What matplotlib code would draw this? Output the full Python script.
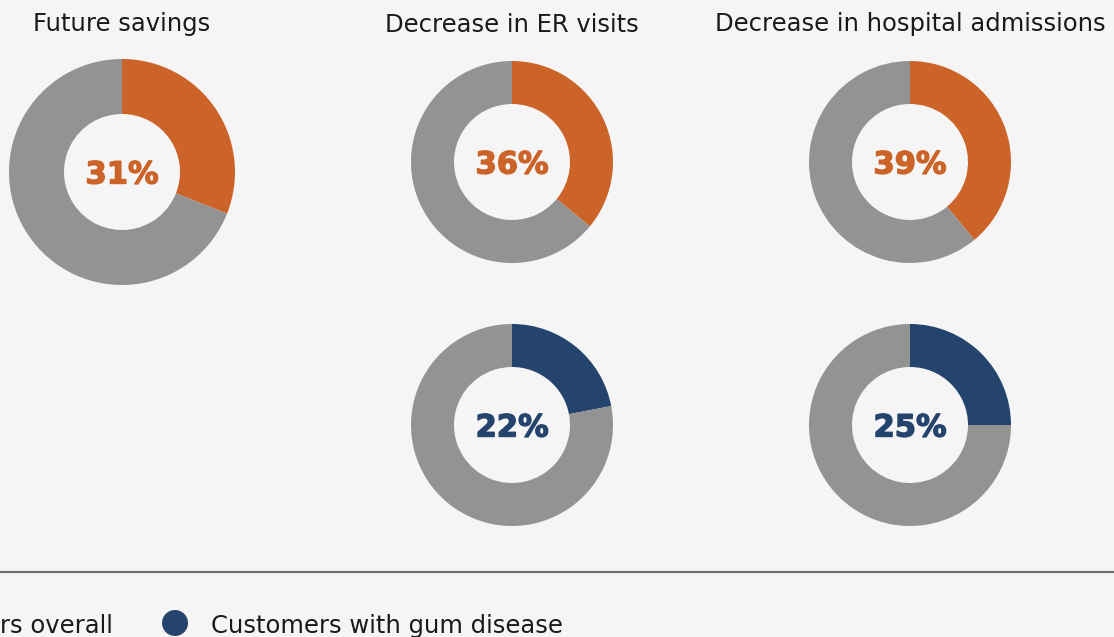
import matplotlib
matplotlib.use("Agg")
import matplotlib.pyplot as plt
from matplotlib.patches import Circle
import matplotlib.patheffects as pe

# ---- data ----
titles = ["Future savings", "Decrease in ER visits", "Decrease in hospital admissions"]
overall_pct = [31, 36, 39]
gum_pct = [None, 22, 25]
legend_labels = ["Customers overall", "Customers with gum disease"]

# ---- style ----
BG = "#f5f5f5"
ORANGE = "#cc6328"
BLUE = "#24446d"
GRAY = "#939393"
TXT = "#1a1a1a"
FONT = ["DejaVu Sans"]

W, H = 1114, 637
fig = plt.figure(figsize=(W / 100, H / 100), dpi=100, facecolor=BG)
ax = fig.add_axes([0, 0, 1, 1])
ax.set_facecolor(BG)

def Y(py):
    return H - py

# layout (pixel positions)
col_x = [122, 512, 910]
title_base = 31.5
top_y = [172, 162, 162]
top_r = [113, 101, 101]
bot_y = 425
bot_r = 101
inner_r = 58

def donut(value, cx, cy, r, color):
    ax.pie([value, 100 - value], startangle=90, counterclock=False,
           colors=[color, GRAY], center=(cx, Y(cy)), radius=r,
           wedgeprops=dict(width=r - inner_r, linewidth=0))
    ax.text(cx, Y(cy + 11.5), f"{value}%", ha="center", va="baseline",
            fontsize=22, fontweight="bold", color=color, family=FONT,
            path_effects=[pe.withStroke(linewidth=1.0, foreground=color)])

for i, t in enumerate(titles):
    ax.text(col_x[i], Y(title_base), t, ha="center", va="baseline",
            fontsize=17.5, color=TXT, family=FONT)
    donut(overall_pct[i], col_x[i], top_y[i], top_r[i], ORANGE)
    if gum_pct[i] is not None:
        donut(gum_pct[i], col_x[i], bot_y, bot_r, BLUE)

# separator line
ax.plot([0, W], [Y(572), Y(572)], color="#6b6b6b", linewidth=1.5,
        solid_capstyle="butt")

# legend
leg_base = 633
t1 = ax.text(113, Y(leg_base), legend_labels[0], ha="right", va="baseline",
             fontsize=17.5, color=TXT, family=FONT)
ax.add_patch(Circle((175, Y(623)), 13, color=BLUE, linewidth=0))
ax.text(211, Y(leg_base), legend_labels[1], ha="left", va="baseline",
        fontsize=17.5, color=TXT, family=FONT)

ax.set_xlim(0, W)
ax.set_ylim(0, H)
ax.set_aspect("auto")
ax.axis("off")

# orange marker for the first entry, left of its (partly cropped) text
fig.canvas.draw()
ext = t1.get_window_extent()
ax.add_patch(Circle((ext.x0 - 36, Y(623)), 13, color=ORANGE, linewidth=0))

fig.savefig("out.png", dpi=100, facecolor=BG)
